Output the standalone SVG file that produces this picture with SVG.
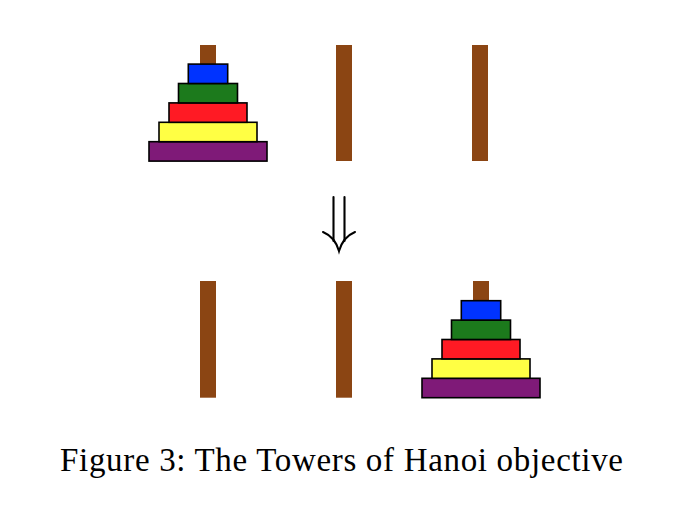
<svg xmlns="http://www.w3.org/2000/svg" width="700" height="508" viewBox="0 0 700 508">
<style>
.peg{fill:#8B4513}
.disk{stroke:#000;stroke-width:1.6}
.d1{fill:#0033ff}.d2{fill:#1c7a1c}.d3{fill:#ff1a24}.d4{fill:#ffff44}.d5{fill:#7f1a78}
.arr{fill:none;stroke:#000;stroke-width:2.1;stroke-linecap:round}
.cap{font-family:"Liberation Serif","DejaVu Serif",serif;font-size:33px;fill:#000}
</style>
<rect width="700" height="508" fill="#fff"/>
<g id="top-peg-1"><rect class="peg" x="200" y="45" width="16" height="116"/></g>
<g id="top-peg-2"><rect class="peg" x="336" y="45" width="16" height="116"/></g>
<g id="top-peg-3"><rect class="peg" x="472" y="45" width="16" height="116"/></g>
<g id="top-tower">
<rect class="disk d5" x="149" y="141.7" width="118" height="19.4"/>
<rect class="disk d4" x="159" y="122.3" width="98" height="19.4"/>
<rect class="disk d3" x="169" y="102.9" width="78" height="19.4"/>
<rect class="disk d2" x="178.5" y="83.5" width="59" height="19.4"/>
<rect class="disk d1" x="188.3" y="64.1" width="39.4" height="19.4"/>
</g>
<g id="bottom-peg-1"><rect class="peg" x="200" y="281" width="16" height="116.7"/></g>
<g id="bottom-peg-2"><rect class="peg" x="336" y="281" width="16" height="116.7"/></g>
<g id="bottom-peg-3"><rect class="peg" x="473" y="281" width="16" height="116.7"/></g>
<g id="bottom-tower">
<rect class="disk d5" x="422" y="378.3" width="118" height="19.4"/>
<rect class="disk d4" x="432" y="358.9" width="98" height="19.4"/>
<rect class="disk d3" x="442" y="339.5" width="78" height="19.4"/>
<rect class="disk d2" x="451.5" y="320.1" width="59" height="19.4"/>
<rect class="disk d1" x="461.3" y="300.7" width="39.4" height="19.4"/>
</g>
<g id="connectors">
<path class="arr" d="M333.5 197 V241 M344.5 197 V241"/>
<path class="arr" d="M323 232 Q335 237 339 251 Q343 237 355 232"/>
</g>
<g id="caption">
<text class="cap" x="60" y="471" textLength="563" lengthAdjust="spacing">Figure 3: The Towers of Hanoi objective</text>
</g>
</svg>
